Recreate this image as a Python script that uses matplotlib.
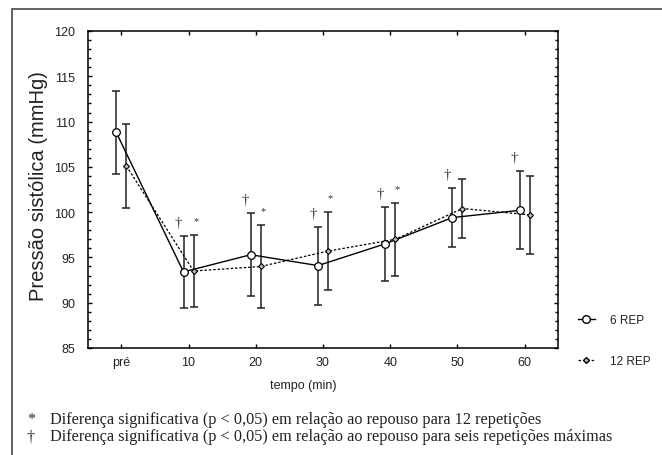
import numpy as np
import matplotlib
matplotlib.use("Agg")
import matplotlib.pyplot as plt
from matplotlib.patches import Rectangle
from matplotlib.lines import Line2D

## data
categories = ['pré', '10', '20', '30', '40', '50', '60']
rep6_mean = [108.8, 93.4, 95.3, 94.1, 96.5, 99.4, 100.2]
rep6_sd = [4.6, 4.0, 4.6, 4.3, 4.1, 3.3, 4.3]
rep12_mean = [105.1, 93.5, 94.0, 95.7, 97.0, 100.4, 99.7]
rep12_sd = [4.6, 4.0, 4.6, 4.3, 4.0, 3.3, 4.3]
sig6 = [False, True, True, True, True, True, True]      # dagger
sig12 = [False, True, True, True, True, False, False]   # asterisk

footnotes = [
    ("*", "Diferença significativa (p < 0,05) em relação ao repouso para 12 repetições"),
    ("†", "Diferença significativa (p < 0,05) em relação ao repouso para seis repetições máximas"),
]

plt.rcParams['font.family'] = ['Liberation Sans', 'DejaVu Sans']

fig = plt.figure(figsize=(6.62, 4.56), dpi=100)
ax = fig.add_axes([87.7/662, 1 - 349/456, (558.3-87.7)/662, (349-32)/456])

x = np.arange(len(categories))
off = 0.075

# 6 REP: solid line, open circles
ax.errorbar(x - off, rep6_mean, yerr=rep6_sd, fmt='-', color='black', lw=1.0,
            ecolor='#222222', elinewidth=1.1, capsize=3, capthick=1.1, zorder=2)
ax.plot(x - off, rep6_mean, 'o', ms=5.5, mfc='white', mec='black', mew=0.9, zorder=4)

# 12 REP: dashed line, small diamonds
ax.errorbar(x + off, rep12_mean, yerr=rep12_sd, fmt='none',
            ecolor='#222222', elinewidth=1.1, capsize=3, capthick=1.1, zorder=2)
ax.plot(x + off, rep12_mean, color='black', lw=0.9, ls=(0, (2, 1.5)), zorder=3)
ax.plot(x + off, rep12_mean, 'D', ms=3, mfc='#bbbbbb', mec='black', mew=0.8, zorder=4)

# significance marks
for i in range(len(categories)):
    if sig6[i]:
        ax.text(x[i] - 0.15, rep6_mean[i] + rep6_sd[i] + 1.5, "†", ha='center', va='center',
                fontsize=10.5, family=['Liberation Serif'], color='#333333')
    if sig12[i]:
        ax.text(x[i] + 0.11, rep12_mean[i] + rep12_sd[i] + 1.6, "*", ha='center', va='center',
                fontsize=7.5, family=['Liberation Serif'], color='#333333')

ax.set_xlim(-0.5, 6.5)
ax.set_ylim(85, 120)
ax.set_xticks(x)
ax.set_xticklabels(categories)
ax.set_yticks(np.arange(85, 121, 5))
ax.set_yticks(np.arange(85, 121, 1), minor=True)
ax.tick_params(axis='both', which='both', direction='in', top=True, right=True,
               labelsize=9, width=1.0, color='black', labelcolor='#222222')
ax.tick_params(axis='both', which='major', length=3)
ax.tick_params(axis='y', which='minor', length=2)
ax.tick_params(axis='x', which='major', pad=6)
ax.tick_params(axis='y', which='major', pad=9)
for s in ax.spines.values():
    s.set_linewidth(1.1)

fig.text(303/662, 1 - 386/456, "tempo (min)", ha='center', va='center', fontsize=9,
         color='#222222')
fig.text(39/662, 1 - 186/456, "Pressão sistólica (mmHg)", ha='center', va='center',
         rotation=90, fontsize=14.5, color='#222222')

# legend
handles = [
    Line2D([], [], color='black', lw=1.0, marker='o', ms=5.5, mfc='white', mec='black'),
    Line2D([], [], color='black', lw=0.9, ls=(0, (2, 1.5)), marker='D', ms=3,
           mfc='#bbbbbb', mec='black'),
]
fig.legend(handles, ['6 REP', '12 REP'], loc='center left',
           bbox_to_anchor=(578/662, 1 - 341.5/456), frameon=False, fontsize=8.5,
           handlelength=1.4, handletextpad=1.3, labelspacing=2.5,
           borderpad=0, borderaxespad=0, labelcolor='#222222')

# footnotes
for k, (sym, txt) in enumerate(footnotes):
    yy = 1 - (420 + 17.5 * k) / 456
    fig.text(31/662, yy, sym, ha='center', va='center', fontsize=11.7,
             family=['Liberation Serif'], color='#333333')
    fig.text(50/662, yy, txt, ha='left', va='center', fontsize=11.7,
             family=['Liberation Serif'], color='#222222')

# outer frame
fig.patches.append(Rectangle((12.3/662, -0.05), 1.0, 0.05 + 1 - 10/456,
                             transform=fig.transFigure, fill=False,
                             edgecolor='#555555', lw=1.3))

fig.savefig("out.png", dpi=100)
